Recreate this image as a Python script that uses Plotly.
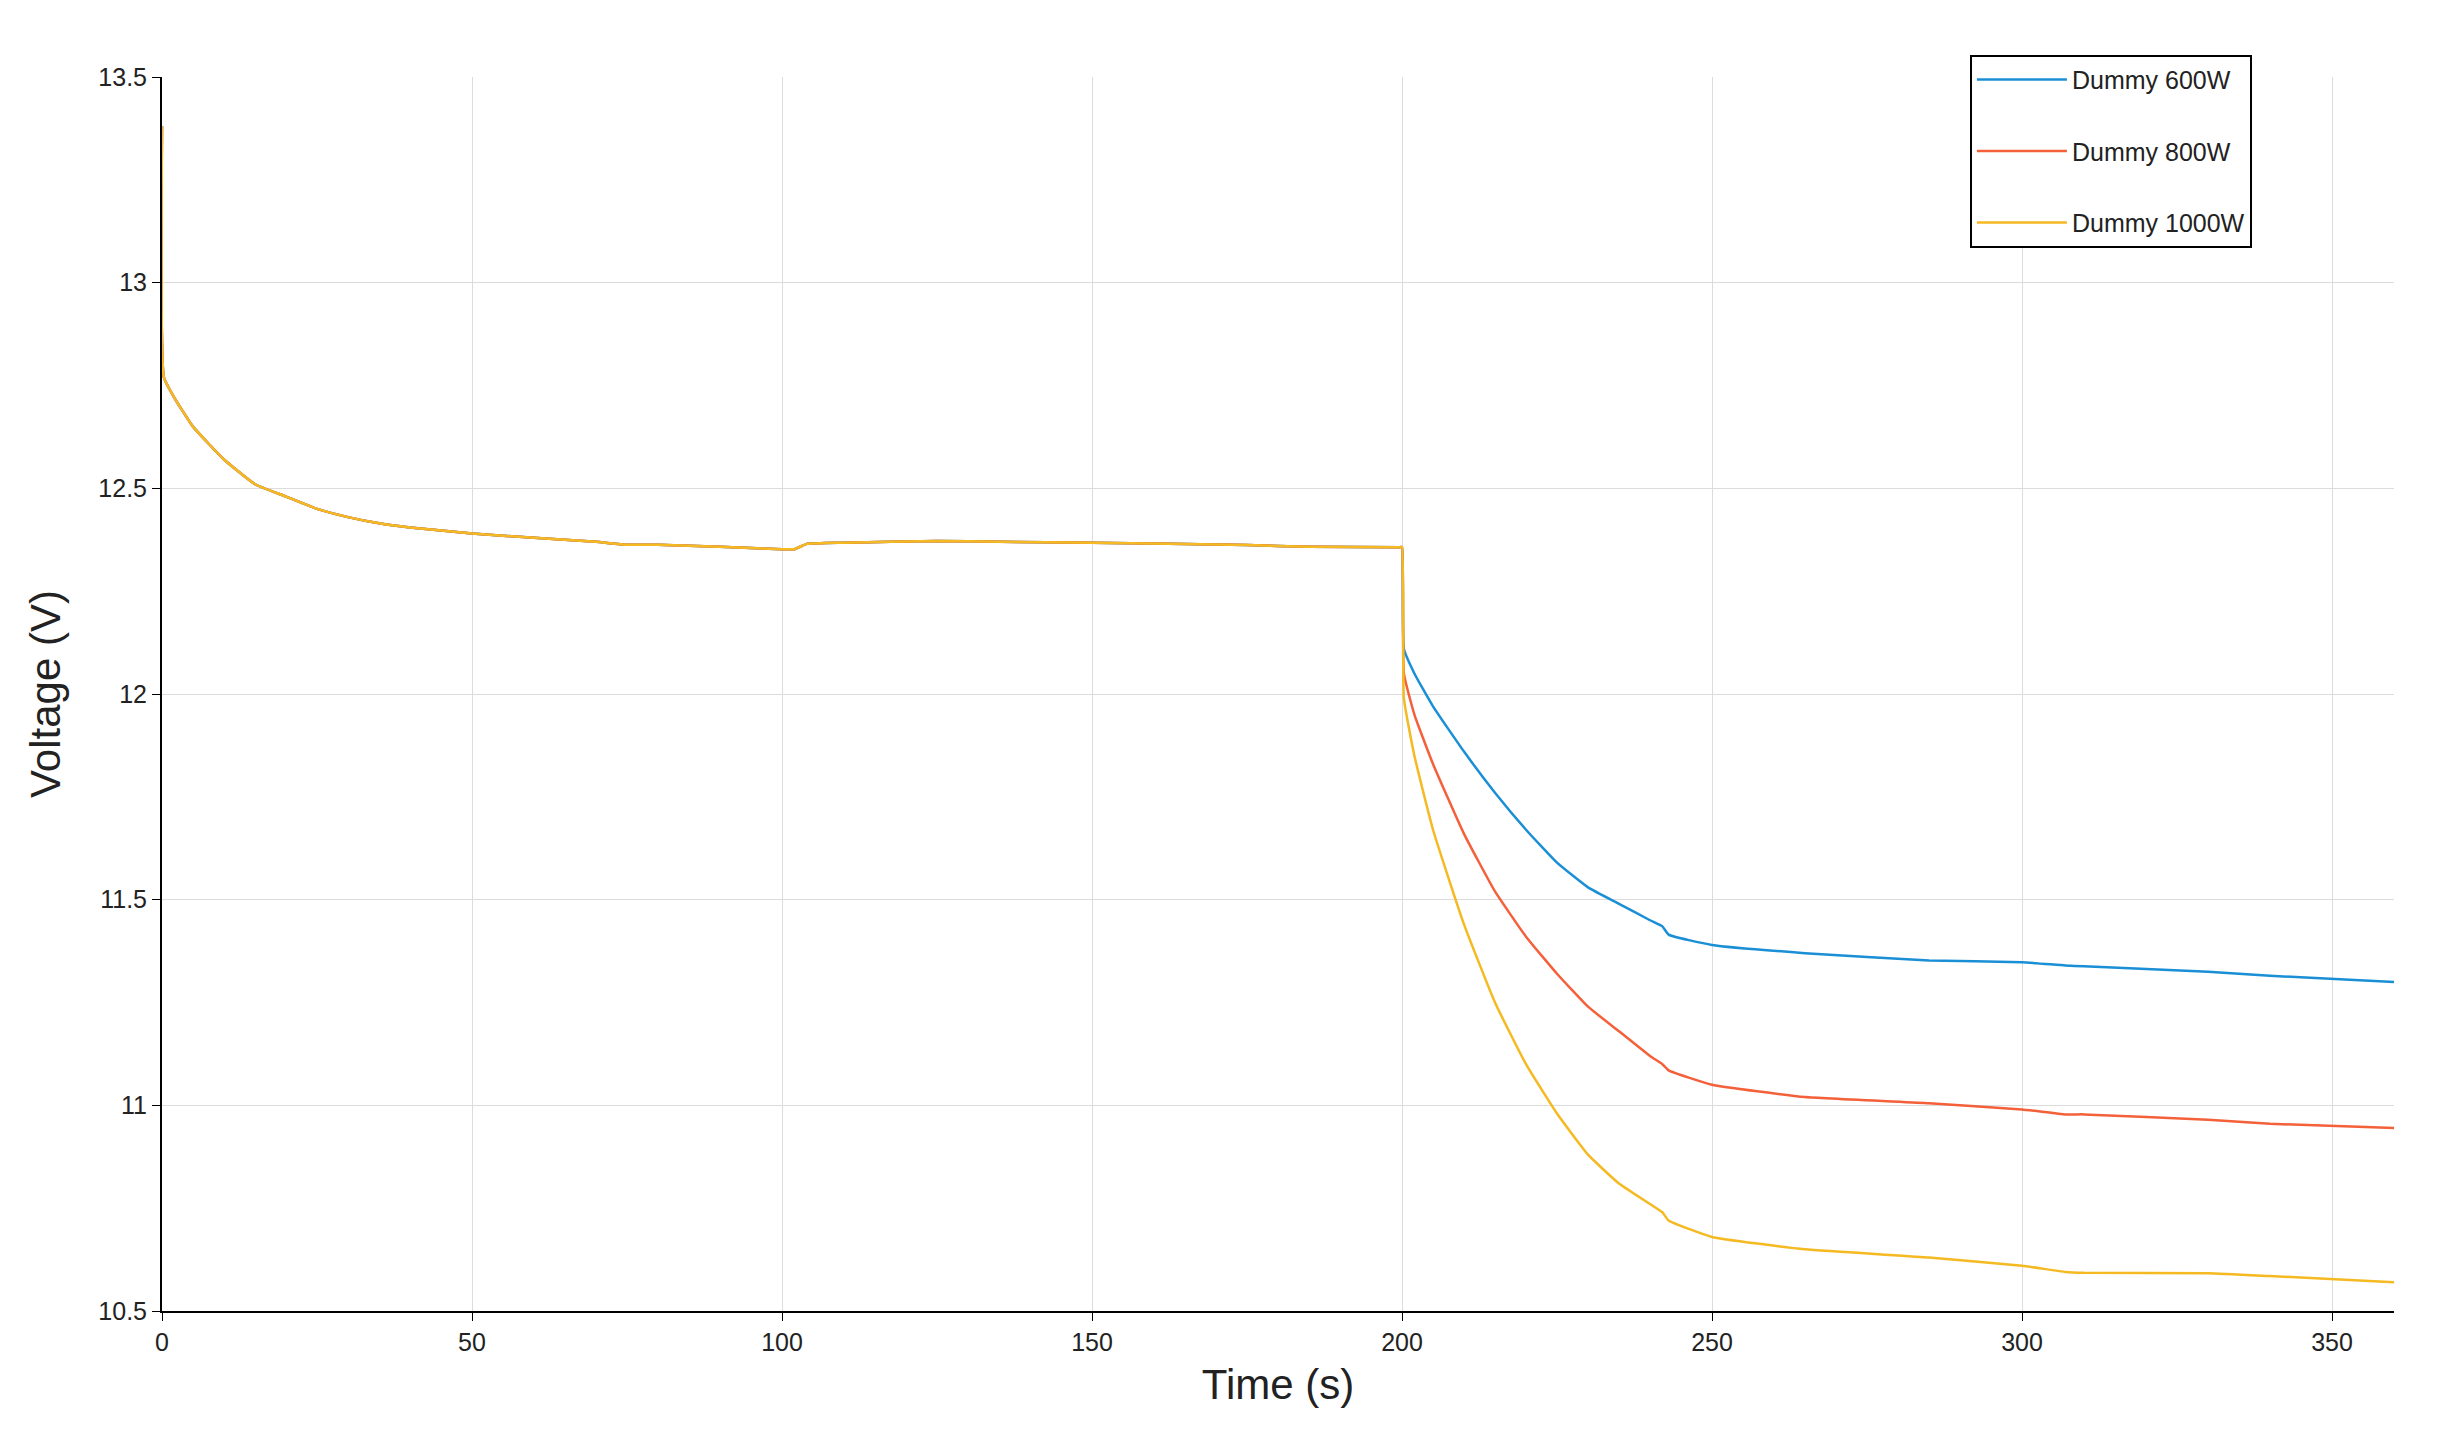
import plotly.graph_objects as go

# values
t_common = [0, 0.3, 2, 5, 10, 15, 20, 25, 30, 35, 40, 50, 60, 70, 75, 80, 90, 100, 102, 104, 110, 125, 135, 150, 175, 185, 199.7]
v_common = [13.38, 12.77, 12.72, 12.65, 12.57, 12.51, 12.48, 12.45, 12.43, 12.415, 12.405, 12.39, 12.38, 12.37, 12.363, 12.363, 12.358, 12.352, 12.352, 12.365, 12.368, 12.372, 12.37, 12.368, 12.362, 12.358, 12.357]

t_after = [200, 200.3, 202, 205, 210, 215, 220, 225, 230, 235, 240, 242, 243, 250, 265, 285, 300, 307, 310, 330, 340, 360]
v_600 = [12.357, 12.11, 12.05, 11.97, 11.86, 11.76, 11.67, 11.59, 11.53, 11.49, 11.45, 11.435, 11.415, 11.39, 11.37, 11.352, 11.348, 11.34, 11.338, 11.325, 11.315, 11.3]
v_800 = [12.357, 12.05, 11.95, 11.83, 11.66, 11.52, 11.41, 11.32, 11.24, 11.18, 11.12, 11.1, 11.085, 11.05, 11.02, 11.005, 10.99, 10.978, 10.978, 10.965, 10.955, 10.945]
v_1000 = [12.357, 11.99, 11.85, 11.67, 11.44, 11.25, 11.1, 10.98, 10.88, 10.81, 10.76, 10.74, 10.72, 10.68, 10.65, 10.63, 10.61, 10.595, 10.593, 10.592, 10.585, 10.57]

series = [("Dummy 600W", v_600, "#1a8fd6"), ("Dummy 800W", v_800, "#f4603a"), ("Dummy 1000W", v_1000, "#f5b921")]

fig = go.Figure()
for name, vals, col in series:
    fig.add_trace(go.Scatter(x=t_common + t_after, y=v_common + vals, mode="lines", name=name,
                             legendgroup=name, line=dict(color=col, width=2.5, shape="spline", smoothing=0.4)))

font = "Liberation Sans, Arial, sans-serif"
axis = dict(showgrid=True, gridcolor="#dcdcdc", gridwidth=1, showline=True, linecolor="black", linewidth=2,
            ticks="outside", ticklen=8, tickcolor="black", zeroline=False,
            tickfont=dict(size=25, color="#222", family=font))
fig.update_layout(
    width=2440, height=1445, paper_bgcolor="white", plot_bgcolor="white",
    margin=dict(l=154, r=54, t=69, b=142),
    xaxis=dict(axis, range=[0, 360], tickvals=[0, 50, 100, 150, 200, 250, 300, 350],
               title=dict(text="Time (s)", font=dict(size=42, color="#222", family=font), standoff=15)),
    yaxis=dict(axis, range=[10.5, 13.5], tickvals=[10.5, 11, 11.5, 12, 12.5, 13, 13.5],
               ticktext=["10.5", "11", "11.5", "12", "12.5", "13", "13.5"],
               title=dict(text="Voltage (V)", font=dict(size=42, color="#222", family=font), standoff=25)),
    legend=dict(x=0.81, xanchor="left", y=1.018, yanchor="top", bordercolor="black", borderwidth=2,
                bgcolor="white", font=dict(size=25, color="#222", family=font), itemwidth=90,
                traceorder="grouped", tracegroupgap=36),
)
fig.write_html("out.html")
